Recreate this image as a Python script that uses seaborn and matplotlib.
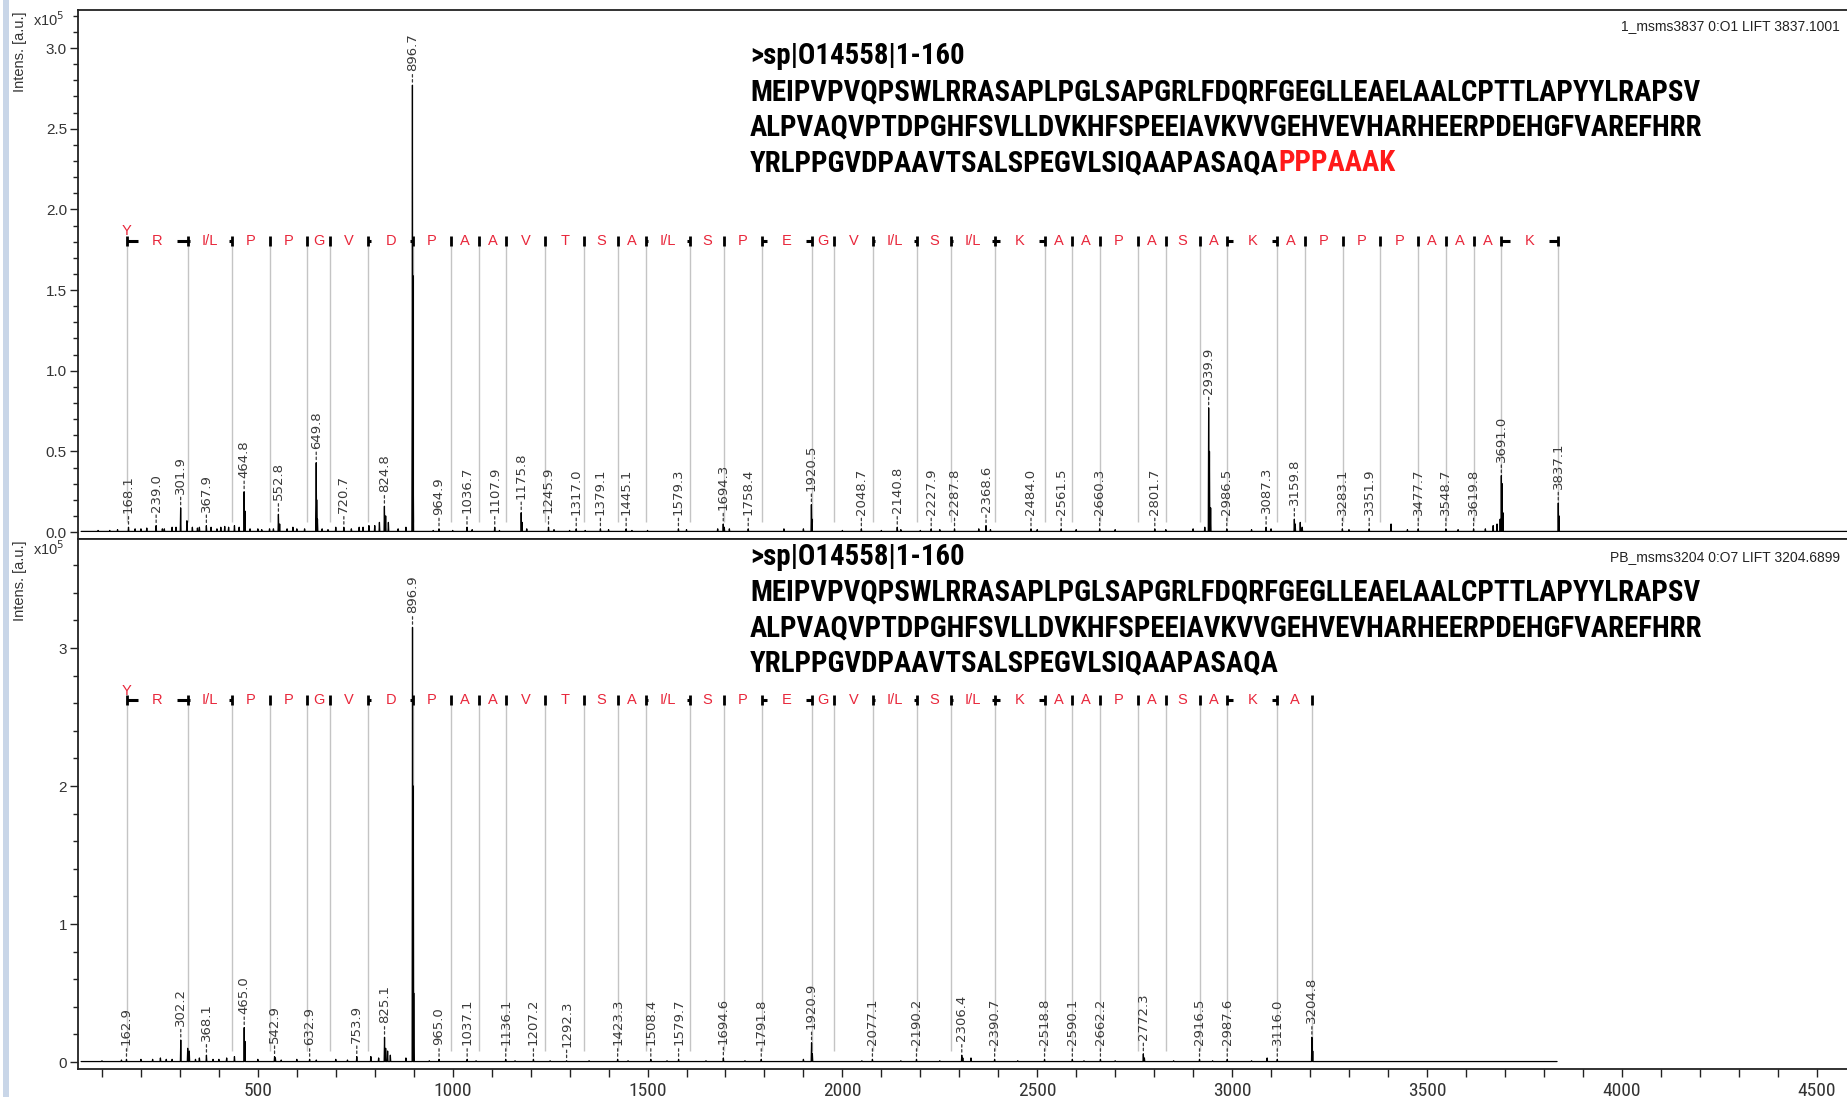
import matplotlib
matplotlib.use("Agg")
import matplotlib.pyplot as plt
import seaborn as sns
import pandas as pd
from matplotlib import font_manager
from matplotlib.patches import Rectangle
from matplotlib.ticker import MultipleLocator, FormatStrFormatter

# ---------------------------------------------------------------- data
# labelled peaks, upper spectrum (m/z, intensity x1e5)
top_mz = [168.1, 239.0, 301.9, 367.9, 464.8, 552.8, 649.8, 720.7, 824.8, 896.7,
          964.9, 1036.7, 1107.9, 1175.8, 1245.9, 1317.0, 1379.1, 1445.1, 1579.3,
          1694.3, 1758.4, 1920.5, 2048.7, 2140.8, 2227.9, 2287.8, 2368.6, 2484.0,
          2561.5, 2660.3, 2801.7, 2939.9, 2986.5, 3087.3, 3159.8, 3283.1, 3351.9,
          3477.7, 3548.7, 3619.8, 3691.0, 3837.1]
top_int = [0.03, 0.04, 0.15, 0.04, 0.25, 0.11, 0.43, 0.03, 0.16, 2.77,
           0.02, 0.03, 0.03, 0.12, 0.03, 0.02, 0.02, 0.02, 0.02,
           0.05, 0.02, 0.17, 0.02, 0.03, 0.02, 0.02, 0.04, 0.02,
           0.02, 0.02, 0.02, 0.77, 0.02, 0.03, 0.08, 0.02, 0.02,
           0.02, 0.02, 0.02, 0.35, 0.18]
# unlabelled peaks and baseline bumps, upper spectrum
top_minor_mz = [90, 120, 140, 185, 200, 215, 255, 260, 280, 290, 318, 332, 345, 350,
                380, 395, 405, 415, 425, 440, 452, 467, 480, 500, 510, 530, 540, 556,
                575, 590, 600, 620, 651, 653, 665, 680, 700, 740, 760, 770, 785, 800,
                812, 828, 835, 860, 880, 897.7, 898.7, 950, 1000, 1050, 1120, 1178,
                1190, 1260, 1300, 1340, 1400, 1460, 1500, 1600, 1680, 1697, 1710, 1850,
                1900, 1922, 2000, 2100, 2150, 2200, 2250, 2350, 2380, 2500, 2600, 2700,
                2830, 2900, 2930, 2942, 2945, 3050, 3100, 3162, 3175, 3180, 3300, 3408,
                3450, 3580, 3650, 3670, 3680, 3688, 3693, 3695, 3839]
top_minor_int = [0.01, 0.01, 0.015, 0.02, 0.02, 0.025, 0.02, 0.02, 0.03, 0.03, 0.07,
                 0.03, 0.025, 0.03, 0.03, 0.02, 0.03, 0.035, 0.03, 0.04, 0.03, 0.13,
                 0.02, 0.02, 0.015, 0.02, 0.02, 0.05, 0.02, 0.03, 0.02, 0.02, 0.20,
                 0.08, 0.02, 0.015, 0.03, 0.02, 0.03, 0.03, 0.04, 0.04, 0.06, 0.10,
                 0.06, 0.02, 0.03, 1.59, 0.40, 0.01, 0.01, 0.015, 0.01, 0.06, 0.02,
                 0.015, 0.01, 0.01, 0.015, 0.01, 0.01, 0.015, 0.02, 0.03, 0.02, 0.02,
                 0.02, 0.08, 0.01, 0.01, 0.015, 0.01, 0.015, 0.02, 0.015, 0.015, 0.015,
                 0.015, 0.015, 0.02, 0.03, 0.50, 0.15, 0.015, 0.02, 0.05, 0.06, 0.03,
                 0.015, 0.05, 0.015, 0.015, 0.02, 0.04, 0.05, 0.08, 0.30, 0.12, 0.10]

# labelled peaks, lower spectrum
bot_mz = [162.9, 302.2, 368.1, 465.0, 542.9, 632.9, 753.9, 825.1, 896.9, 965.0,
          1037.1, 1136.1, 1207.2, 1292.3, 1423.3, 1508.4, 1579.7, 1694.6, 1791.8,
          1920.9, 2077.1, 2190.2, 2306.4, 2390.7, 2518.8, 2590.1, 2662.2, 2772.3,
          2916.5, 2987.6, 3116.0, 3204.8]
bot_int = [0.02, 0.16, 0.05, 0.25, 0.04, 0.02, 0.04, 0.18, 3.15, 0.02,
           0.02, 0.02, 0.02, 0.01, 0.02, 0.02, 0.02, 0.03, 0.02,
           0.14, 0.02, 0.02, 0.05, 0.02, 0.02, 0.02, 0.02, 0.06,
           0.02, 0.02, 0.02, 0.18]
bot_minor_mz = [100, 150, 200, 230, 250, 265, 280, 320, 324, 340, 350, 385, 400, 420,
                440, 467, 500, 545, 560, 600, 650, 700, 730, 790, 810, 828, 833, 840,
                880, 898.9, 899.9, 940, 1060, 1160, 1250, 1350, 1450, 1550, 1650, 1750,
                1900, 1923, 2050, 2150, 2250, 2309, 2330, 2450, 2620, 2700, 2775, 2850,
                2950, 3050, 3090, 3207]
bot_minor_int = [0.01, 0.015, 0.02, 0.02, 0.03, 0.02, 0.02, 0.10, 0.08, 0.02, 0.03,
                 0.02, 0.02, 0.03, 0.04, 0.15, 0.02, 0.03, 0.015, 0.02, 0.015, 0.02,
                 0.015, 0.04, 0.03, 0.10, 0.08, 0.05, 0.03, 2.00, 0.50, 0.01, 0.01,
                 0.01, 0.01, 0.01, 0.01, 0.01, 0.01, 0.01, 0.02, 0.06, 0.01, 0.01,
                 0.01, 0.03, 0.03, 0.01, 0.01, 0.01, 0.03, 0.01, 0.01, 0.01, 0.03,
                 0.08]

# fragment ladder positions (m/z) and residues
top_ladder = [164.1, 320.2, 433.3, 530.3, 627.4, 684.4, 783.5, 898.5, 995.6, 1066.6,
              1137.6, 1236.7, 1337.8, 1424.8, 1495.8, 1608.9, 1696.0, 1793.0, 1922.1,
              1979.1, 2078.1, 2191.2, 2278.3, 2391.3, 2519.4, 2590.4, 2661.5, 2758.5,
              2829.6, 2916.6, 2987.6, 3115.7, 3186.7, 3283.8, 3380.8, 3477.9, 3548.9,
              3620.0, 3691.0, 3837.1]
top_residues = ["R", "I/L", "P", "P", "G", "V", "D", "P", "A", "A", "V", "T", "S", "A",
                "I/L", "S", "P", "E", "G", "V", "I/L", "S", "I/L", "K", "A", "A", "P",
                "A", "S", "A", "K", "A", "P", "P", "P", "A", "A", "A", "K"]
bot_ladder = [164.1, 320.2, 433.3, 530.3, 627.4, 684.4, 783.5, 898.5, 995.6, 1066.6,
              1137.6, 1236.7, 1337.8, 1424.8, 1495.8, 1608.9, 1696.0, 1793.0, 1922.1,
              1979.1, 2078.1, 2191.2, 2278.3, 2391.3, 2519.4, 2590.4, 2661.5, 2758.5,
              2829.6, 2916.6, 2987.6, 3115.7, 3204.8]
bot_residues = ["R", "I/L", "P", "P", "G", "V", "D", "P", "A", "A", "V", "T", "S", "A",
                "I/L", "S", "P", "E", "G", "V", "I/L", "S", "I/L", "K", "A", "A", "P",
                "A", "S", "A", "K", "A"]

seq_header = ">sp|O14558|1-160"
seq_lines = ["MEIPVPVQPSWLRRASAPLPGLSAPGRLFDQRFGEGLLEAELAALCPTTLAPYYLRAPSV",
             "ALPVAQVPTDPGHFSVLLDVKHFSPEEIAVKVVGEHVEVHARHEERPDEHGFVAREFHRR",
             "YRLPPGVDPAAVTSALSPEGVLSIQAAPASAQA"]
seq_covered = "PPPAAAK"
top_title = "1_msms3837 0:O1 LIFT 3837.1001"
bot_title = "PB_msms3204 0:O7 LIFT 3204.6899"

# ---------------------------------------------------------------- style
W, H = 1847, 1097
sns.set_theme(style="white")


def pick_font(names):
    for n in names:
        try:
            font_manager.findfont(font_manager.FontProperties(family=n),
                                  fallback_to_default=False)
            return n
        except ValueError:
            continue
    return "DejaVu Sans"


SANS = pick_font(["Liberation Sans", "Arimo", "DejaVu Sans"])
NARROW = pick_font(["Liberation Sans Narrow", "Roboto Condensed", "Liberation Sans"])
plt.rcParams["font.family"] = [SANS, "DejaVu Sans"]

TXT = "#333333"
RED = "#e8263a"
GRID = "#c4c4c4"

fig = plt.figure(figsize=(W / 100, H / 100), dpi=100)
fig.patch.set_facecolor("white")
fig.patches.append(Rectangle((3 / W, 0), 6 / W, 1, transform=fig.transFigure,
                             facecolor="#c9d6e8", edgecolor="none", zorder=0))

L, R = 78 / W, 1.0
ax_top = fig.add_axes([L, 1 - 539 / H, R - L, (539 - 10) / H])
ax_bot = fig.add_axes([L, 1 - 1069 / H, R - L, (1069 - 539) / H], sharex=ax_top)

XMIN, XMAX = 38.5, 4578


def spectrum_frame(mz, inten, minor_mz, minor_int, x_end):
    pts = sorted(zip(list(mz) + list(minor_mz), list(inten) + list(minor_int)))
    xs, ys = [XMIN + 8], [0.004]
    for m, h in pts:
        xs += [m - 1.0, m, m + 1.0]
        ys += [0.004, h, 0.004]
    xs.append(x_end)
    ys.append(0.004)
    return pd.DataFrame({"mz": xs, "intensity": ys})


def draw_panel(ax, mz, inten, minor_mz, minor_int, x_end, ladder, residues,
               level, drop_to, ylim):
    df = spectrum_frame(mz, inten, minor_mz, minor_int, x_end)
    # fragment ladder drop lines
    ax.vlines(ladder, drop_to, level, color=GRID, lw=1.0, zorder=1)
    sns.lineplot(data=df, x="mz", y="intensity", sort=False, estimator=None,
                 color="black", lw=0.9, ax=ax, zorder=3)
    # ladder bar: stubs, residues and end marks
    gap = 50
    for left, right, aa in zip(ladder[:-1], ladder[1:], residues):
        mid = (left + right) / 2
        if mid - gap > left:
            ax.plot([left, mid - gap], [level, level], color="black", lw=2.2,
                    solid_capstyle="butt", zorder=4)
            ax.plot([mid + gap, right], [level, level], color="black", lw=2.2,
                    solid_capstyle="butt", zorder=4)
        ax.text(mid, level, aa, color=RED, ha="center", va="center",
                fontsize=10.5, family=[SANS], zorder=5)
    ax.plot(ladder, [level] * len(ladder), ls="none", marker="|", ms=7.5,
            mew=2.0, color="black", zorder=4)
    ax.annotate("Y", xy=(ladder[0], level), xytext=(0, 2), textcoords="offset points",
                color=RED, ha="center", va="bottom", fontsize=10.5)
    # peak labels
    for m, h in zip(mz, inten):
        ax.annotate(f"{m:.1f}", xy=(m, h), xytext=(0, 10), textcoords="offset points",
                    rotation=90, ha="center", va="bottom", fontsize=9.5,
                    family=["DejaVu Sans"], color="#3a3a3a", zorder=6,
                    arrowprops=dict(arrowstyle="-", lw=0.9, color="#3a3a3a",
                                    linestyle=(0, (2, 2)), shrinkA=0, shrinkB=1))
    ax.set_ylim(*ylim)
    ax.set_xlim(XMIN, XMAX)
    ax.set_xlabel("")
    ax.set_ylabel("")
    ax.spines["right"].set_visible(False)
    for s in ("left", "top", "bottom"):
        ax.spines[s].set_color("#222222")
        ax.spines[s].set_linewidth(1.3)
    ax.tick_params(axis="y", which="major", direction="out", length=6, width=1,
                   color="#222222", labelsize=11, labelcolor=TXT, left=True, pad=2)
    ax.tick_params(axis="y", which="minor", direction="out", length=3.5, width=1,
                   color="#222222", left=True)


draw_panel(ax_top, top_mz, top_int, top_minor_mz, top_minor_int, XMAX,
           top_ladder, top_residues, 1.805, 0.06, (-0.043, 3.236))
draw_panel(ax_bot, bot_mz, bot_int, bot_minor_mz, bot_minor_int, 3834,
           bot_ladder, bot_residues, 2.62, 0.08, (-0.05, 3.79))

ax_top.yaxis.set_major_locator(MultipleLocator(0.5))
ax_top.yaxis.set_minor_locator(MultipleLocator(0.1))
ax_top.yaxis.set_major_formatter(FormatStrFormatter("%.1f"))
ax_top.tick_params(axis="x", which="both", bottom=False, labelbottom=False)

ax_bot.yaxis.set_major_locator(MultipleLocator(1))
ax_bot.yaxis.set_minor_locator(MultipleLocator(0.2))
ax_bot.yaxis.set_major_formatter(FormatStrFormatter("%d"))
ax_bot.xaxis.set_major_locator(MultipleLocator(500))
ax_bot.xaxis.set_minor_locator(MultipleLocator(100))
ax_bot.tick_params(axis="x", which="major", direction="out", length=6, width=1,
                   color="#222222", labelsize=14, labelcolor=TXT, bottom=True, pad=3)
ax_bot.tick_params(axis="x", which="minor", direction="out", length=6, width=1,
                   color="#222222", bottom=True)
for lab in ax_bot.get_xticklabels():
    lab.set_family([NARROW])

# axis captions
for y_top, y_exp in ((12, 20), (541, 549)):
    fig.text(20 / W, 1 - y_top / H, "Intens. [a.u.]", rotation=90, ha="center",
             va="top", fontsize=10.5, color=TXT)
    fig.text(33 / W, 1 - y_exp / H, r"x10$^5$", ha="left", va="center",
             fontsize=10.5, color=TXT)

fig.text(1840 / W, 1 - 26 / H, top_title, ha="right", va="center", fontsize=10,
         color="#222222")
fig.text(1840 / W, 1 - 557 / H, bot_title, ha="right", va="center", fontsize=10,
         color="#222222")

# protein sequence blocks, sized so the full-length line spans 952 px
renderer = fig.canvas.get_renderer()
probe = fig.text(0, 0, seq_lines[0], fontsize=20, fontweight="bold", family=[NARROW])
seq_size = 20 * 952 / probe.get_window_extent(renderer).width
probe.remove()

for y0, covered in ((56.5, True), (557, False)):
    fig.text(750 / W, 1 - y0 / H, seq_header, fontsize=seq_size, fontweight="bold",
             family=[NARROW], color="black", va="center")
    last = None
    for i, line in enumerate(seq_lines):
        y_line = 1 - (y0 + 35.5 * (i + 1)) / H
        last = fig.text(750 / W, y_line, line, fontsize=seq_size,
                        fontweight="bold", family=[NARROW], color="black", va="center")
    if covered:
        x_end = last.get_window_extent(renderer).x1
        fig.text(x_end / W, y_line, seq_covered, fontsize=seq_size, fontweight="bold",
                 family=[NARROW], color="#ff1a1a", ha="left", va="center")

fig.savefig("out.png", dpi=100, facecolor="white")
